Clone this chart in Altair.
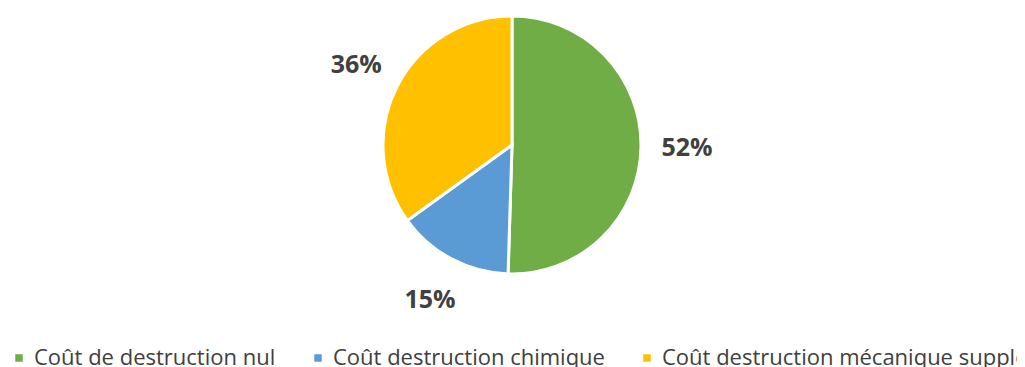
import altair as alt
import pandas as pd

categories = ["Coût de destruction nul", "Coût destruction chimique", "Coût destruction mécanique supplémentaire"]
values = [52, 15, 36]
labels = ["52%", "15%", "36%"]
colors = ["#70AD47", "#5B9BD5", "#FFC000"]

df = pd.DataFrame({"cat": categories, "val": values, "lab": labels, "ord": list(range(len(categories)))})

cx, cy = 504, 137

base = alt.Chart(df).encode(
    theta=alt.Theta("val:Q", stack=True),
    order=alt.Order("ord:Q"),
)

arcs = base.mark_arc(outerRadius=129, stroke="white", strokeWidth=3).encode(
    x=alt.value(cx), y=alt.value(cy),
    color=alt.Color(
        "cat:N",
        scale=alt.Scale(domain=categories, range=colors),
        legend=alt.Legend(
            title=None, orient="none", legendX=0, legendY=339, direction="horizontal",
            symbolType="square", symbolSize=56, symbolStrokeWidth=0,
            labelFont="Open Sans", labelFontSize=22, labelColor="#404040",
            columnPadding=31, labelOffset=4, labelLimit=0, padding=0,
        ),
    ),
)

text = base.mark_text(radius=175, font="Open Sans", fontSize=25, fontWeight="bold", color="#404040").encode(
    x=alt.value(cx), y=alt.value(cy),
    text="lab:N",
)

chart = (arcs + text).properties(
    width=1009, height=359,
    autosize=alt.AutoSizeParams(type="none"),
    padding=0,
).configure_view(stroke=None)

chart.save("out.html", embed_options={"renderer": "svg", "actions": False})
